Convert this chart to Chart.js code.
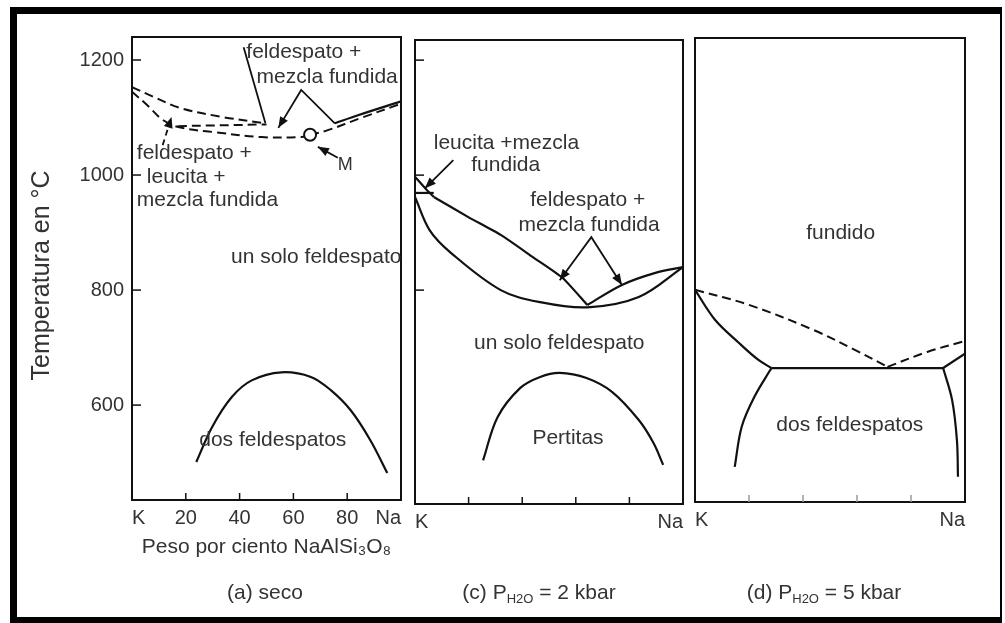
<!DOCTYPE html>
<html>
<head>
<meta charset="utf-8">
<script src="https://cdn.jsdelivr.net/npm/chart.js@4.4.0/dist/chart.umd.min.js"></script>
<style>
    html, body { margin: 0; padding: 0; background: #fff; }
    body { width: 1005px; height: 623px; position: relative; overflow: hidden; }
    #frame {
        position: absolute; left: 10px; top: 7px; width: 983px; height: 603px;
        border-style: solid; border-color: #000; border-width: 7px 2px 6px 7px;
    }
    canvas { position: absolute; top: 14px; }
    #chartA { left: 17px; }
    #chartC { left: 409px; }
    #chartD { left: 689px; }
</style>
</head>
<body>
<div id="frame"></div>
<canvas id="chartA" width="392" height="603"></canvas>
<canvas id="chartC" width="280" height="603"></canvas>
<canvas id="chartD" width="311" height="603"></canvas>

<script>
// Axis ticks (x = weight % NaAlSi3O8, y = temperature in °C)
const xTicks = [0, 20, 40, 60, 80, 100];
const xLabelsA = ['K', '20', '40', '60', '80', 'Na'];
const xLabelsCD = ['K', '', '', '', '', 'Na'];
const xInnerTicks = [20, 40, 60, 80];
const yTicks = [600, 800, 1000, 1200];
const yLabels = ['600', '800', '1000', '1200'];
const yInnerTicksC = [800, 1000, 1200];

// (a) seco
const aLeuLiqX = [0, 8, 17.6, 33.5, 49.6];
const aLeuLiqT = [1153, 1136, 1117, 1101, 1090];
const aMidX = [17, 50];
const aMidT = [1085, 1088];
const aLowX = [0, 6, 11.4, 17.6, 29.8, 48.2, 62.9, 66.2];
const aLowT = [1145, 1120, 1096, 1083, 1075, 1066, 1066, 1070];
const aNaDashX = [66.2, 72.8, 85, 100];
const aNaDashT = [1070, 1078, 1099, 1124];
const aNaLiqX = [75.4, 84, 100];
const aNaLiqT = [1090, 1104, 1128];
const aSolvX = [23.9, 29.8, 37.1, 44.5, 55.5, 66.5, 73.9, 81.3, 88.6, 94.9];
const aSolvT = [501, 562, 614, 643, 657, 649, 626, 591, 539, 482];
const aMinX = [66.2];
const aMinT = [1070];
const aLead1X = [41.5, 49.6];
const aLead1T = [1222, 1090];
const aLead2X = [54.4, 62.9, 75.4];
const aLead2T = [1082, 1148, 1090];
const aLead3X = [11.4, 14.7];
const aLead3T = [1052, 1101];
const aLead4X = [76.5, 69.1];
const aLead4T = [1030, 1049];

// (c) P H2O = 2 kbar
const cLeuX = [0, 4.4, 7];
const cLeuT = [997, 974, 962];
const cLeuBoxX = [0, 7];
const cLeuBoxT = [969, 969];
const cLiqKX = [7, 19.9, 32, 44.1, 55.1, 64.3];
const cLiqKT = [962, 927, 896, 857, 821, 774];
const cLiqNaX = [64.3, 77.2, 89.7, 100];
const cLiqNaT = [774, 809, 830, 840];
const cSolX = [0, 5.5, 13.6, 32, 46.7, 64.3, 83.5, 100];
const cSolT = [962, 904, 864, 800, 779, 770, 788, 840];
const cSolvX = [25.4, 30.8, 39.3, 46.7, 54, 64, 73.5, 83.5, 89, 92.6];
const cSolvT = [504, 579, 630, 649, 656, 647, 623, 574, 534, 496];
const cLead1X = [14.3, 3.7];
const cLead1T = [1026, 977];
const cLead2X = [54, 65.8, 77.2];
const cLead2T = [817, 892, 809];

// (d) P H2O = 5 kbar
const dLiqKX = [0, 19.9, 44, 59, 71.3];
const dLiqKT = [800, 774, 730, 696, 666];
const dLiqNaX = [71.3, 86, 100];
const dLiqNaT = [666, 692, 711];
const dSolKX = [0, 7.4, 16.2, 23.5, 28.3];
const dSolKT = [800, 748, 708, 678, 664];
const dEutX = [28.3, 91.9];
const dEutT = [664, 664];
const dSolNaX = [91.9, 100];
const dSolNaT = [664, 689];
const dSolvKX = [28.3, 22, 17.3, 14.7];
const dSolvKT = [664, 614, 562, 492];
const dSolvNaX = [91.9, 95.2, 97, 97.4];
const dSolvNaT = [664, 609, 539, 475];

// Field names
const aNotes = [
    { text: 'feldespato +', x: 42.5, y: 1214 },
    { text: 'mezcla fundida', x: 46.3, y: 1170 },
    { text: 'feldespato +', x: 1.8, y: 1038 },
    { text: 'leucita +', x: 5.5, y: 997 },
    { text: 'mezcla fundida', x: 1.8, y: 957 },
    { text: 'M', x: 76.5, y: 1017, size: 18 },
    { text: 'un solo feldespato', x: 36.8, y: 857 },
    { text: 'dos feldespatos', x: 25, y: 539 }
];
const cNotes = [
    { text: 'leucita +mezcla', x: 7, y: 1056 },
    { text: 'fundida', x: 21, y: 1017 },
    { text: 'feldespato +', x: 43, y: 957 },
    { text: 'mezcla fundida', x: 38.6, y: 913 },
    { text: 'un solo feldespato', x: 22, y: 708 },
    { text: 'Pertitas', x: 43.8, y: 543 }
];
const dNotes = [
    { text: 'fundido', x: 41.2, y: 899 },
    { text: 'dos feldespatos', x: 30.1, y: 565 }
];

const INK = '#111';
const TXT = '#333';
const FONT = '"Liberation Sans", Arial, sans-serif';

function line(xs, ts, extra) {
    return Object.assign({
        data: xs.map((x, i) => ({ x: x, y: ts[i] })),
        borderColor: INK,
        borderWidth: 2.2,
        tension: 0.35,
        pointRadius: 0
    }, extra || {});
}
const dashed = { borderDash: [9, 5], borderWidth: 2 };
const leader = { tension: 0, borderWidth: 1.8 };

function arrowHead(ctx, from, to) {
    const ang = Math.atan2(to.y - from.y, to.x - from.x);
    const len = 11, half = 4.5;
    ctx.beginPath();
    ctx.moveTo(to.x, to.y);
    ctx.lineTo(to.x - len * Math.cos(ang) + half * Math.sin(ang), to.y - len * Math.sin(ang) - half * Math.cos(ang));
    ctx.lineTo(to.x - len * Math.cos(ang) - half * Math.sin(ang), to.y - len * Math.sin(ang) + half * Math.cos(ang));
    ctx.closePath();
    ctx.fill();
}

// Box, inner ticks, arrows, field names and panel caption
const paperPlugin = {
    id: 'paper',
    afterDatasetsDraw(chart, args, opts) {
        const { ctx, chartArea: a, scales: { x, y } } = chart;
        ctx.save();
        ctx.strokeStyle = INK;
        ctx.lineWidth = 2;
        ctx.strokeRect(a.left, a.top, a.right - a.left, a.bottom - a.top);

        ctx.lineWidth = 1.5;
        ctx.strokeStyle = opts.tickColor || INK;
        (opts.xTicks || []).forEach(v => {
            const px = x.getPixelForValue(v);
            ctx.beginPath(); ctx.moveTo(px, a.bottom); ctx.lineTo(px, a.bottom - 7); ctx.stroke();
        });
        ctx.strokeStyle = INK;
        (opts.yTicks || []).forEach(v => {
            const py = y.getPixelForValue(v);
            ctx.beginPath(); ctx.moveTo(a.left, py); ctx.lineTo(a.left + 9, py); ctx.stroke();
        });

        ctx.fillStyle = INK;
        chart.data.datasets.forEach((ds, i) => {
            if (!ds.arrow) return;
            const pts = chart.getDatasetMeta(i).data;
            if (ds.arrow === 'end' || ds.arrow === 'both') arrowHead(ctx, pts[pts.length - 2], pts[pts.length - 1]);
            if (ds.arrow === 'start' || ds.arrow === 'both') arrowHead(ctx, pts[1], pts[0]);
        });

        ctx.fillStyle = TXT;
        ctx.textAlign = 'left';
        ctx.textBaseline = 'middle';
        (opts.notes || []).forEach(n => {
            ctx.font = (n.size || 21) + 'px ' + FONT;
            ctx.fillText(n.text, x.getPixelForValue(n.x), y.getPixelForValue(n.y));
        });

        // caption with subscript
        const parts = opts.caption || [];
        const widths = parts.map(p => {
            ctx.font = (p.sub ? 13 : 21) + 'px ' + FONT;
            return ctx.measureText(p.t).width;
        });
        let cx = opts.captionX - widths.reduce((s, w) => s + w, 0) / 2;
        parts.forEach((p, i) => {
            ctx.font = (p.sub ? 13 : 21) + 'px ' + FONT;
            ctx.fillText(p.t, cx, opts.captionY + (p.sub ? 6 : 0));
            cx += widths[i];
        });
        ctx.restore();
    }
};

function xScale(labels, height, title) {
    return {
        type: 'linear', min: 0, max: 100,
        afterBuildTicks: s => { s.ticks = xTicks.map(v => ({ value: v })); },
        afterFit: s => { s.height = height; },
        grid: { display: false, drawTicks: false },
        border: { display: false },
        ticks: {
            align: 'inner', padding: 6, autoSkip: false, maxRotation: 0,
            color: TXT, font: { family: FONT, size: 20 },
            callback: v => labels[xTicks.indexOf(v)]
        },
        title: title ? {
            display: true, text: title, color: TXT,
            font: { family: FONT, size: 21 }, padding: { top: 0, bottom: 57 }
        } : { display: false }
    };
}

function makePanel(id, datasets, yMin, yMax, padding, xOpts, yOpts, paper) {
    return new Chart(document.getElementById(id), {
        type: 'line',
        data: { datasets: datasets },
        options: {
            responsive: false,
            animation: false,
            layout: { padding: padding },
            plugins: { legend: { display: false }, tooltip: { enabled: false }, paper: paper },
            scales: { x: xOpts, y: Object.assign({ type: 'linear', min: yMin, max: yMax }, yOpts) }
        },
        plugins: [paperPlugin]
    });
}

// (a)
makePanel('chartA', [
    line(aMinX, aMinT, { showLine: false, pointRadius: 6, pointBackgroundColor: '#fff', pointBorderColor: INK, pointBorderWidth: 2 }),
    line(aLeuLiqX, aLeuLiqT, dashed),
    line(aMidX, aMidT, dashed),
    line(aLowX, aLowT, dashed),
    line(aNaDashX, aNaDashT, dashed),
    line(aNaLiqX, aNaLiqT),
    line(aSolvX, aSolvT),
    line(aLead1X, aLead1T, leader),
    line(aLead2X, aLead2T, Object.assign({ arrow: 'start' }, leader)),
    line(aLead3X, aLead3T, Object.assign({ arrow: 'end', borderDash: [6, 4] }, leader)),
    line(aLead4X, aLead4T, Object.assign({ arrow: 'end' }, leader))
], 435, 1240, { left: 0, top: 23, right: 5, bottom: 0 },
    xScale(xLabelsA, 117, 'Peso por ciento NaAlSi\u2083O\u2088'),
    {
        afterBuildTicks: s => { s.ticks = yTicks.map(v => ({ value: v })); },
        afterFit: s => { s.width = 115; },
        grid: { display: false, drawTicks: false },
        border: { display: false },
        ticks: {
            padding: 8, color: TXT, font: { family: FONT, size: 20 },
            callback: v => yLabels[yTicks.indexOf(v)]
        },
        title: {
            display: true, text: 'Temperatura en °C  ', color: TXT,
            font: { family: FONT, size: 25 }, padding: { top: 10, bottom: 0 }
        }
    },
    {
        xTicks: xInnerTicks, yTicks: yTicks, notes: aNotes,
        caption: [{ t: '(a) seco' }], captionX: 248, captionY: 579
    });

// (c)
makePanel('chartC', [
    line(cLeuX, cLeuT, { tension: 0.2 }),
    line(cLeuBoxX, cLeuBoxT, { tension: 0 }),
    line(cLiqKX, cLiqKT, { tension: 0.2 }),
    line(cLiqNaX, cLiqNaT),
    line(cSolX, cSolT),
    line(cSolvX, cSolvT),
    line(cLead1X, cLead1T, Object.assign({ arrow: 'end' }, leader)),
    line(cLead2X, cLead2T, Object.assign({ arrow: 'both' }, leader))
], 428, 1235, { left: 4, top: 26, right: 4, bottom: 0 },
    xScale(xLabelsCD, 113, null),
    { display: false },
    {
        xTicks: xInnerTicks, yTicks: yInnerTicksC, notes: cNotes,
        caption: [{ t: '(c) P' }, { t: 'H2O', sub: true }, { t: ' = 2 kbar' }], captionX: 130, captionY: 579
    });

// (d)
makePanel('chartD', [
    line(dLiqKX, dLiqKT, dashed),
    line(dLiqNaX, dLiqNaT, dashed),
    line(dSolKX, dSolKT),
    line(dEutX, dEutT, { tension: 0 }),
    line(dSolNaX, dSolNaT, { tension: 0 }),
    line(dSolvKX, dSolvKT),
    line(dSolvNaX, dSolvNaT)
], 431, 1238, { left: 4, top: 24, right: 35, bottom: 0 },
    xScale(xLabelsCD, 115, null),
    { display: false },
    {
        xTicks: xInnerTicks, tickColor: '#999', notes: dNotes,
        caption: [{ t: '(d) P' }, { t: 'H2O', sub: true }, { t: ' = 5 kbar' }], captionX: 135, captionY: 579
    });
</script>
</body>
</html>
